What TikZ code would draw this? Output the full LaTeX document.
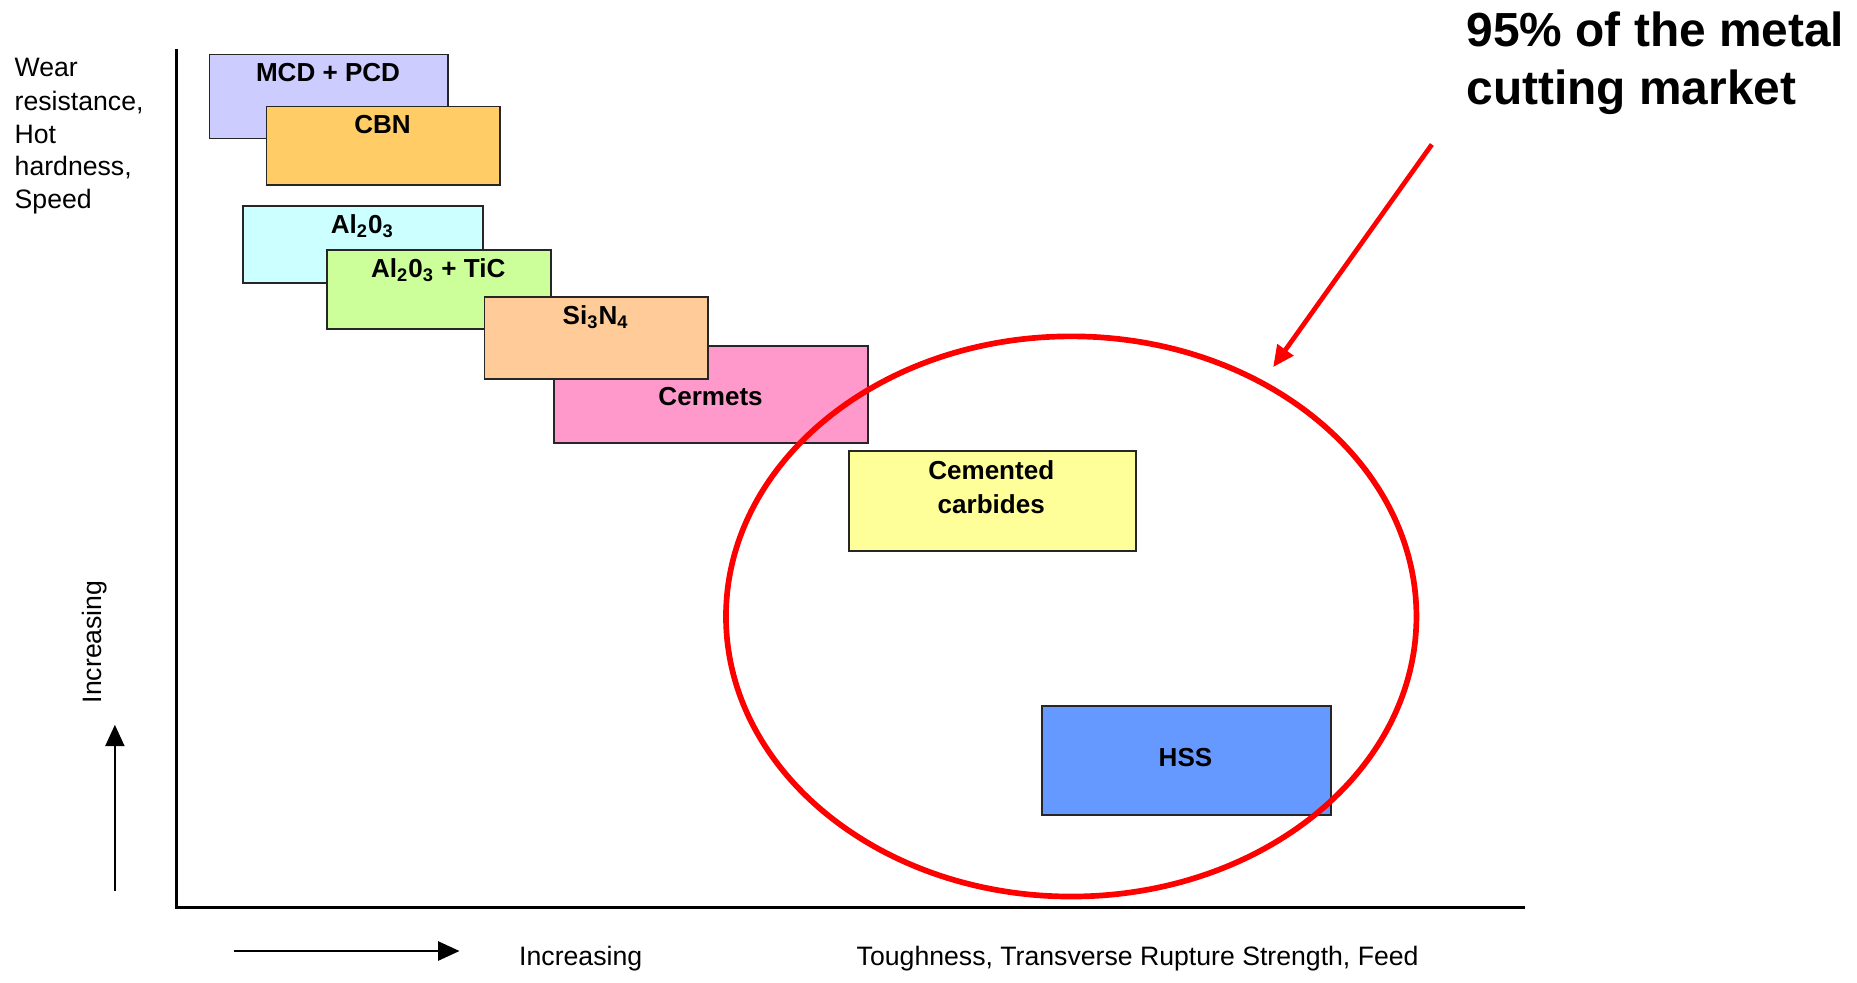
\documentclass[tikz,border=0pt]{standalone}
\usepackage{fontspec}
\setmainfont{Liberation Sans}
\usetikzlibrary{arrows.meta,shapes.geometric}
\definecolor{cmcd}{HTML}{CCCCFF}
\definecolor{ccbn}{HTML}{FFCC66}
\definecolor{cal}{HTML}{CCFFFF}
\definecolor{ctic}{HTML}{CCFF99}
\definecolor{csi}{HTML}{FFCC99}
\definecolor{ccer}{HTML}{FF99CC}
\definecolor{ccem}{HTML}{FFFF99}
\definecolor{chss}{HTML}{6699FF}
\definecolor{cred}{HTML}{FF0000}
\tikzset{
  box/.style={draw=black!85, line width=0.7pt, rectangle, inner sep=0pt, outer sep=0pt},
  lab/.style={font=\fontsize{11}{13.9}\selectfont\bfseries, inner sep=0pt, anchor=base},
  txt/.style={font=\fontsize{11.25}{13.9}\selectfont, inner sep=0pt},
  axis/.style={line width=1.4pt, line cap=rect},
  darrow/.style={line width=1pt, -{Triangle[length=9pt,width=8pt]}},
}
\begin{document}
\begin{tikzpicture}[x=0.5pt,y=-0.5pt]
\useasboundingbox (0,0) rectangle (1568,830);
% axes
\coordinate (ytop) at (149,43);
\coordinate (orig) at (149,766);
\coordinate (xend) at (1286,766);
\draw[axis] (ytop) -- (orig) -- (xend);
% boxes
\node[box, fill=cmcd, minimum width=100.5pt, minimum height=35.5pt] (mcd) at (277.5,81.5) {};
\node[lab] (lmcd) at (277,69) {MCD + PCD};
\node[box, fill=ccbn, minimum width=98.5pt, minimum height=33pt] (cbn) at (323.5,123) {};
\node[lab] (lcbn) at (323,113) {CBN};
\node[box, fill=cal, minimum width=101.5pt, minimum height=32.5pt] (al) at (306.5,206.5) {};
\node[lab] (lal) at (306,197) {Al\textsubscript{2}0\textsubscript{3}};
\node[box, fill=ctic, minimum width=94.5pt, minimum height=33.5pt] (tic) at (370.5,244.5) {};
\node[lab] (ltic) at (370,234) {Al\textsubscript{2}0\textsubscript{3} + TiC};
\node[box, fill=ccer, minimum width=132.5pt, minimum height=41pt] (cer) at (600.5,333) {};
\node[lab] (lcer) at (600,342) {Cermets};
\node[box, fill=csi, minimum width=94.5pt, minimum height=34.5pt] (si) at (503.5,285.5) {};
\node[lab] (lsi) at (503,274) {Si\textsubscript{3}N\textsubscript{4}};
\node[box, fill=ccem, minimum width=121pt, minimum height=42pt] (cem) at (838,423) {};
\node[lab] (lcem1) at (837,405) {Cemented};
\node[lab] (lcem2) at (837,434) {carbides};
\node[box, fill=chss, minimum width=122pt, minimum height=46pt] (hss) at (1002,642) {};
\node[lab] (lhss) at (1001,647) {HSS};
% red ellipse
\node[draw=cred, line width=2.4pt, ellipse, inner sep=0pt, minimum width=291.5pt, minimum height=236.5pt] (ell) at (904.5,520.5) {};
% red arrow
\coordinate (rs) at (1209,122);
\coordinate (re) at (1075,310);
\draw[cred, line width=2pt, -{Triangle[length=9pt,width=8pt]}] (rs) -- (re);
% title
\node[font=\fontsize{20.2}{24.2}\selectfont\bfseries, inner sep=0pt, anchor=base west] (t1) at (1238,39) {95\% of the metal};
\node[font=\fontsize{20.2}{24.2}\selectfont\bfseries, inner sep=0pt, anchor=base west] (t2) at (1238,88) {cutting market};
% y label
\node[txt, anchor=base west] (w1) at (12,65) {Wear};
\node[txt, anchor=base west] (w2) at (12,93) {resistance,};
\node[txt, anchor=base west] (w3) at (12,121) {Hot};
\node[txt, anchor=base west] (w4) at (12,148) {hardness,};
\node[txt, anchor=base west] (w5) at (12,176) {Speed};
\node[txt, anchor=base, rotate=90] (yinc) at (86,542) {Increasing};
\coordinate (va) at (97,752);
\coordinate (vb) at (97,612);
\draw[darrow] (va) -- (vb);
% x label
\coordinate (ha) at (198,803);
\coordinate (hb) at (388,803);
\draw[darrow] (ha) -- (hb);
\node[txt, anchor=base west] (xinc) at (438,815) {Increasing};
\node[txt, anchor=base west] (xlab) at (723,815) {Toughness, Transverse Rupture Strength, Feed};
\end{tikzpicture}
\end{document}
